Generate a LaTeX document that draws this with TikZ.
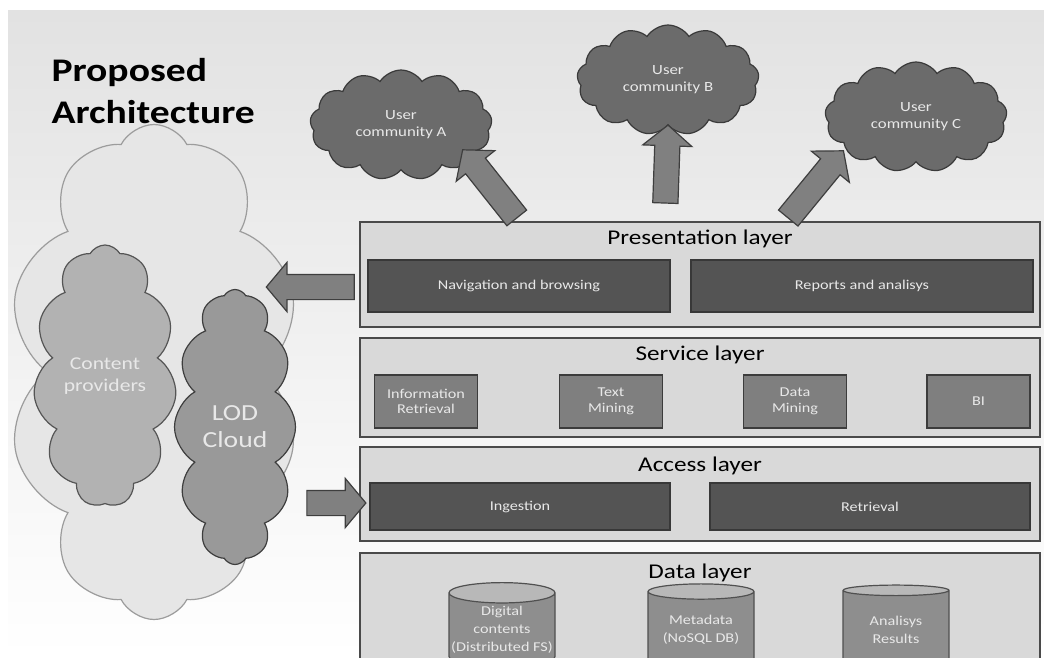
\documentclass[tikz,border=0pt]{standalone}
\usepackage{fontspec}
\setmainfont[FakeStretch=1.2]{Carlito}
\usetikzlibrary{shapes.symbols,shapes.arrows,shapes.geometric}

\definecolor{bgtop}{HTML}{E2E2E2}
\definecolor{layerfill}{HTML}{D9D9D9}
\definecolor{layerline}{HTML}{4A4A4A}
\definecolor{darkfill}{HTML}{545454}
\definecolor{darkline}{HTML}{383838}
\definecolor{midfill}{HTML}{7F7F7F}
\definecolor{midline}{HTML}{3C3C3C}
\definecolor{boxtext}{HTML}{E8E8E8}
\definecolor{ucfill}{HTML}{6B6B6B}
\definecolor{ucline}{HTML}{3A3A3A}
\definecolor{webfill}{HTML}{E6E6E6}
\definecolor{webline}{HTML}{9C9C9C}
\definecolor{cpfill}{HTML}{B2B2B2}
\definecolor{cpline}{HTML}{555555}
\definecolor{lodfill}{HTML}{999999}
\definecolor{lodline}{HTML}{3E3E3E}
\definecolor{arrfill}{HTML}{808080}
\definecolor{arrline}{HTML}{3E3E3E}
\definecolor{cylbody}{HTML}{8E8E8E}
\definecolor{cyltop}{HTML}{B8B8B8}
\definecolor{cylline}{HTML}{505050}

\begin{document}
\begin{tikzpicture}[x=1pt, y=-1pt,
    layer/.style={draw=layerline, line width=1.6pt, fill=layerfill, minimum width=680, inner sep=0pt},
    layertitle/.style={font=\fontsize{21}{24}\selectfont, text=black},
    darkbox/.style={draw=darkline, line width=1.4pt, fill=darkfill, text=boxtext,
      font=\fontsize{13.5}{16}\selectfont, inner sep=0pt},
    midbox/.style={draw=midline, line width=1.4pt, fill=midfill, text=boxtext, align=center,
      font=\fontsize{13.5}{15.5}\selectfont, minimum width=103, minimum height=53, inner sep=0pt},
    usercloud/.style={cloud, cloud puffs=13, cloud puff arc=115, cloud ignores aspect,
      draw=ucline, line width=1.2pt, fill=ucfill, text=boxtext, align=center,
      font=\fontsize{14}{17}\selectfont, minimum width=182, minimum height=110},
    blockarrow/.style={single arrow, single arrow head extend=12pt, single arrow tip angle=100,
      draw=arrline, line width=1.2pt, fill=arrfill, inner sep=12pt,
      sloped, allow upside down},
    dbcyl/.style={cylinder, shape border rotate=90, aspect=0.2, draw=cylline, line width=1.2pt,
      cylinder uses custom fill, cylinder body fill=cylbody, cylinder end fill=cyltop,
      minimum width=106, minimum height=84, text=boxtext, align=center,
      font=\fontsize{13.5}{18}\selectfont, inner sep=0pt}]
  % \draw[help lines] (0,0) grid[step=50] (1044,657);

  \useasboundingbox (0,0) rectangle (1044,657);
  \clip (0,0) rectangle (1044,657);
  \fill[white] (0,0) rectangle (1044,657);
  \shade[top color=bgtop, bottom color=white] (8,10) rectangle (1044,657);

  % clouds on the left
  \draw (154,372) node[cloud, cloud puffs=10, cloud puff arc=125, cloud ignores aspect,
    draw=webline, line width=1.2pt, fill=webfill, minimum width=292, minimum height=495] (web) {};
  \draw (105,376) node[cloud, cloud puffs=11, cloud puff arc=120, cloud ignores aspect,
    draw=cpline, line width=1.2pt, fill=cpfill, minimum width=143, minimum height=262,
    text=boxtext, align=center, font=\fontsize{18}{22}\selectfont] (cprov) {Content\\providers};
  \draw (235,427) node[cloud, cloud puffs=12, cloud puff arc=120, cloud ignores aspect,
    draw=lodline, line width=1.2pt, fill=lodfill, minimum width=121, minimum height=275,
    text=boxtext, align=center, font=\fontsize{23}{27}\selectfont] (lod) {LOD\\Cloud};

  \draw (48,55) node[anchor=north west, align=left, font=\bfseries\fontsize{33}{42}\selectfont]
    (title) {Proposed\\Architecture};

  % layers
  \draw (700,274.5) node[layer, minimum height=105] (pres) {};
  \draw ([yshift=-18pt]pres.north) node[layertitle] (prestitle) {Presentation layer};
  \draw (519,286) node[darkbox, minimum width=302, minimum height=52] (nav) {Navigation and browsing};
  \draw (862,286) node[darkbox, minimum width=342, minimum height=52] (reports) {Reports and analisys};

  \draw (700,387.5) node[layer, minimum height=99] (serv) {};
  \draw ([yshift=-18pt]serv.north) node[layertitle] (servtitle) {Service layer};
  \draw (426,401.5) node[midbox] (ir) {Information\\Retrieval};
  \draw (611,401.5) node[midbox] (tm) {Text\\Mining};
  \draw (795,401.5) node[midbox] (dm) {Data\\Mining};
  \draw (978.5,401.5) node[midbox] (bi) {BI};

  \draw (700,494) node[layer, minimum height=94] (acc) {};
  \draw ([yshift=-20pt]acc.north) node[layertitle] (acctitle) {Access layer};
  \draw (520,506.5) node[darkbox, minimum width=300, minimum height=47] (ingest) {Ingestion};
  \draw (870,506.5) node[darkbox, minimum width=320, minimum height=47] (retr) {Retrieval};

  \draw (700,611) node[layer, minimum height=116] (data) {};
  \draw ([yshift=-21pt]data.north) node[layertitle] (datatitle) {Data layer};
  \draw (502,630) node[dbcyl] (digital) {Digital\\contents\\(Distributed FS)};
  \draw (701,630) node[dbcyl] (meta) {Metadata\\(NoSQL DB)};
  \draw (896,630) node[dbcyl] (results) {Analisys\\Results};

  % user communities
  \draw (401,125) node[usercloud] (ucA) {User\\community A};
  \draw (668,80) node[usercloud] (ucB) {User\\community B};
  \draw (916,117) node[usercloud] (ucC) {User\\community C};

  % block arrows
  \coordinate (fromA) at (520,222);
  \coordinate (toA) at (466,154);
  \coordinate (fromB) at (665,213);
  \coordinate (fromC) at (785,222);
  \coordinate (toC) at (840,155);
  \coordinate (toWeb) at (272,287);
  \coordinate (fromWeb) at (303,503);
  \path (fromA) -- (toA) node[midway, blockarrow, minimum height=87] (arrA) {};
  \path (fromB) -- (ucB.south) node[midway, blockarrow, minimum height=78] (arrB) {};
  \path (fromC) -- (toC) node[midway, blockarrow, minimum height=87] (arrC) {};
  \path (pres.west |- toWeb) -- (toWeb) node[midway, blockarrow, minimum height=88] (arrWeb) {};
  \path (fromWeb) -- (acc.west |- fromWeb) node[midway, blockarrow, minimum height=59] (arrAcc) {};
\end{tikzpicture}
\end{document}
